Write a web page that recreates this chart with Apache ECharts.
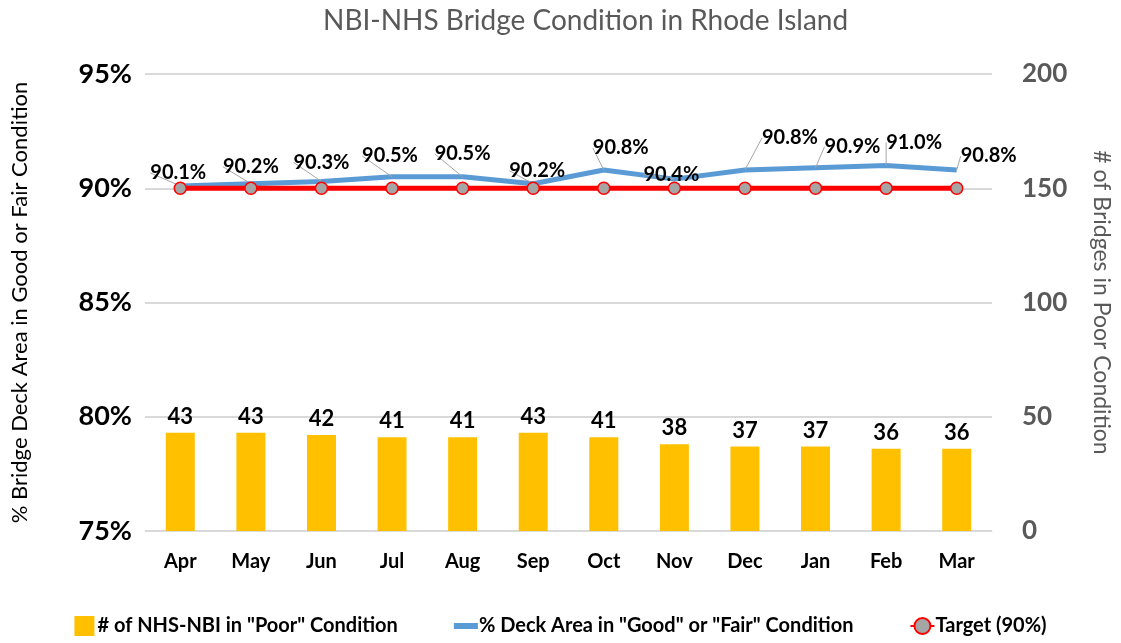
<!DOCTYPE html>
<html>
<head>
<meta charset="utf-8">
<script src="https://cdn.jsdelivr.net/npm/echarts@6/dist/echarts.min.js"></script>
<style>
  html, body { margin: 0; padding: 0; background: #fff; }
  #chart { width: 1121px; height: 643px; }
</style>
</head>
<body>
<div id="chart"></div>
<script>
// data
const months = ['Apr', 'May', 'Jun', 'Jul', 'Aug', 'Sep', 'Oct', 'Nov', 'Dec', 'Jan', 'Feb', 'Mar']
const poorCount = [43, 43, 42, 41, 41, 43, 41, 38, 37, 37, 36, 36]
const deckPct = [90.1, 90.2, 90.3, 90.5, 90.5, 90.2, 90.8, 90.4, 90.8, 90.9, 91.0, 90.8]
const targetPct = [90, 90, 90, 90, 90, 90, 90, 90, 90, 90, 90, 90]

// label shifts for the % line (dx, dy)
const labelShift = [
  [-2, 2], [0, -2], [0, -4], [-2, -6], [0, -8], [4, 2],
  [17, -7], [-3, 10], [45, -17], [37, -6], [28, -8], [32, 1]
]

const font = 'Lato, "Open Sans", sans-serif'

const option = {
  animation: false,
  textStyle: { fontFamily: font },
  title: {
    text: 'NBI-NHS Bridge Condition in Rhode Island',
    left: 318,
    top: 2,
    textStyle: { color: '#595959', fontSize: 28, fontWeight: 'normal', fontFamily: font }
  },
  legend: {
    bottom: 2,
    left: 'center',
    itemGap: 56,
    itemWidth: 24,
    itemHeight: 20,
    textStyle: { color: '#000', fontSize: 20, fontWeight: 'bold', fontFamily: font, padding: [0, 0, 0, -4] },
    data: [
      { name: '# of NHS-NBI in "Poor" Condition', icon: 'path://M0,0 H20 V20 H0 Z', itemStyle: { color: '#FFC000' } },
      { name: '% Deck Area in "Good" or "Fair" Condition', icon: 'path://M0,0 H20 V5 H0 Z', itemStyle: { color: '#5B9BD5', opacity: 1 } },
      { name: 'Target (90%)' }
    ]
  },
  grid: { left: 145, right: 121, top: 74, bottom: 112 },
  xAxis: {
    type: 'category',
    data: months,
    axisLine: { lineStyle: { color: '#D9D9D9' } },
    axisTick: { show: false },
    axisLabel: { color: '#000', fontSize: 20, fontWeight: 'bold', margin: 21 }
  },
  yAxis: [
    {
      type: 'value',
      min: 75,
      max: 95,
      interval: 5,
      name: '% Bridge Deck Area in Good or Fair Condition',
      nameLocation: 'middle',
      nameGap: 114,
      nameTextStyle: { color: '#000', fontSize: 22 },
      axisLabel: { formatter: '{value}%', color: '#000', fontSize: 27, fontWeight: 'bold', margin: 13 },
      splitLine: { lineStyle: { color: '#D9D9D9', width: 2 } },
      axisLine: { show: false },
      axisTick: { show: false }
    },
    {
      type: 'value',
      min: 0,
      max: 200,
      interval: 50,
      name: '# of Bridges in Poor Condition',
      nameLocation: 'middle',
      nameGap: 98,
      nameRotate: -90,
      nameTextStyle: { color: '#595959', fontSize: 23 },
      axisLabel: { color: '#595959', fontSize: 26, fontWeight: 'bold', margin: 30 },
      splitLine: { show: false },
      axisLine: { show: false },
      axisTick: { show: false }
    }
  ],
  series: [
    {
      name: '# of NHS-NBI in "Poor" Condition',
      type: 'bar',
      yAxisIndex: 1,
      barWidth: 29,
      data: poorCount,
      itemStyle: { color: '#FFC000' },
      label: { show: true, position: 'top', color: '#000', fontSize: 22, fontWeight: 'bold', distance: 5 }
    },
    {
      name: '% Deck Area in "Good" or "Fair" Condition',
      type: 'line',
      data: deckPct,
      symbol: 'circle',
      symbolSize: 0,
      showSymbol: true,
      lineStyle: { color: '#5B9BD5', width: 5 },
      itemStyle: { color: '#5B9BD5' },
      z: 3,
      label: {
        show: true,
        position: 'top',
        distance: 5,
        color: '#000',
        fontSize: 20,
        fontWeight: 'bold',
        formatter: p => p.value.toFixed(1) + '%'
      },
      labelLine: { show: true, lineStyle: { color: '#A6A6A6', width: 1 } },
      labelLayout: p => ({ dx: labelShift[p.dataIndex][0], dy: labelShift[p.dataIndex][1] })
    },
    {
      name: 'Target (90%)',
      type: 'line',
      data: targetPct,
      symbol: 'circle',
      symbolSize: 12,
      lineStyle: { color: '#FF0000', width: 5 },
      itemStyle: { color: '#A5A5A5', borderColor: '#FF0000', borderWidth: 1.5 },
      z: 4
    }
  ]
}

const chart = echarts.init(document.getElementById('chart'))
chart.setOption(option)
</script>
</body>
</html>
